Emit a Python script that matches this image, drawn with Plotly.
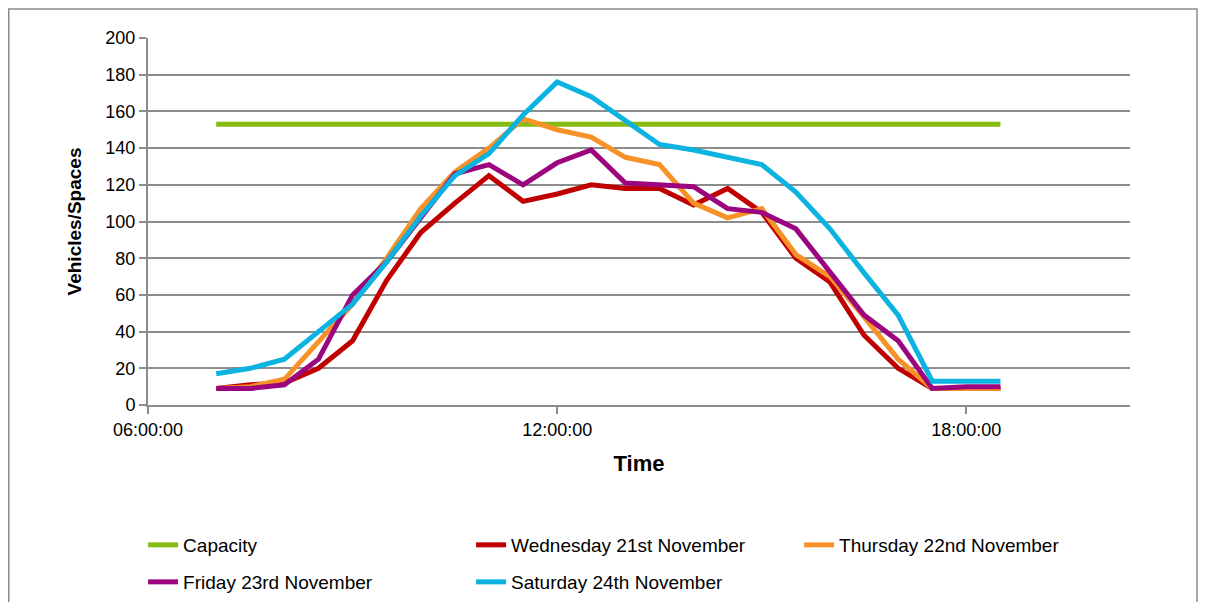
import plotly.graph_objects as go

# half-hourly survey times, 07:00 to 18:30
times = ["07:00", "07:30", "08:00", "08:30", "09:00", "09:30", "10:00", "10:30",
         "11:00", "11:30", "12:00", "12:30", "13:00", "13:30", "14:00", "14:30",
         "15:00", "15:30", "16:00", "16:30", "17:00", "17:30", "18:00", "18:30"]

capacity = [153] * 24
wednesday = [9, 11, 12, 20, 35, 68, 94, 110, 125, 111, 115, 120,
             118, 118, 109, 118, 105, 80, 67, 38, 20, 9, 9, 9]
thursday = [9, 10, 14, 35, 55, 80, 107, 127, 140, 156, 150, 146,
            135, 131, 110, 102, 107, 82, 70, 48, 25, 9, 9, 9]
friday = [9, 9, 11, 25, 60, 78, 102, 126, 131, 120, 132, 139,
          121, 120, 119, 107, 105, 96, 73, 49, 35, 9, 10, 10]
saturday = [17, 20, 25, 40, 55, 78, 103, 125, 137, 158, 176, 168,
            155, 142, 139, 135, 131, 116, 96, 72, 49, 13, 13, 13]

# name, values, colour, legend row
series = [
    ("Capacity", capacity, "#86BC12", "legend"),
    ("Wednesday 21st November", wednesday, "#C00000", "legend"),
    ("Thursday 22nd November", thursday, "#F79228", "legend"),
    ("Friday 23rd November", friday, "#9B057E", "legend2"),
    ("Saturday 24th November", saturday, "#0AB3E0", "legend2"),
]

x = ["2012-11-21 " + t for t in times]

fig = go.Figure()
for name, vals, color, leg in series:
    fig.add_trace(go.Scatter(x=x, y=vals, name=name, mode="lines", legend=leg,
                             line=dict(color=color, width=5)))

grid = "#8C8C8C"
W, H = 1190, 594
L, T, PW, PH = 140, 30, 982, 367

legend_common = dict(orientation="h", xanchor="left", yanchor="middle",
                     entrywidth=283, entrywidthmode="pixels",
                     font=dict(size=19), bgcolor="rgba(0,0,0,0)")

fig.update_layout(
    width=W, height=H,
    margin=dict(l=L, r=W - L - PW, t=T, b=H - T - PH, autoexpand=False),
    plot_bgcolor="white", paper_bgcolor="white",
    font=dict(family="Liberation Sans, Arial, sans-serif", size=18, color="black"),
    legend=dict(x=-0.005, y=(PH - 537 + T) / PH, **legend_common),
    legend2=dict(x=-0.005, y=(PH - 574 + T) / PH, **legend_common),
    xaxis=dict(
        type="date",
        range=["2012-11-21 06:00", "2012-11-21 20:24"],
        tickformat="%H:%M:%S", dtick=6 * 3600 * 1000,
        tick0="2012-11-21 06:00",
        showgrid=False, showline=True, linecolor=grid, linewidth=2,
        ticks="outside", ticklen=7, tickcolor=grid, tickwidth=2,
        title=dict(text="<b>Time</b>", standoff=17),
    ),
    yaxis=dict(
        range=[0, 200], dtick=20,
        showgrid=True, gridcolor=grid, gridwidth=2,
        showline=True, linecolor=grid, linewidth=2,
        ticks="outside", ticklen=7, tickcolor=grid, tickwidth=2,
        zeroline=False,
        title=dict(text="<b>Vehicles/Spaces</b>", standoff=19, font=dict(size=19)),
    ),
    shapes=[dict(type="rect", xref="paper", yref="paper",
                 x0=(0.75 - L) / PW, x1=(W - 1 - L) / PW,
                 y0=-0.7, y1=(PH + T - 1) / PH,
                 line=dict(color="#8C8C8C", width=1.5), layer="below")],
)

fig.write_html("out.html")
